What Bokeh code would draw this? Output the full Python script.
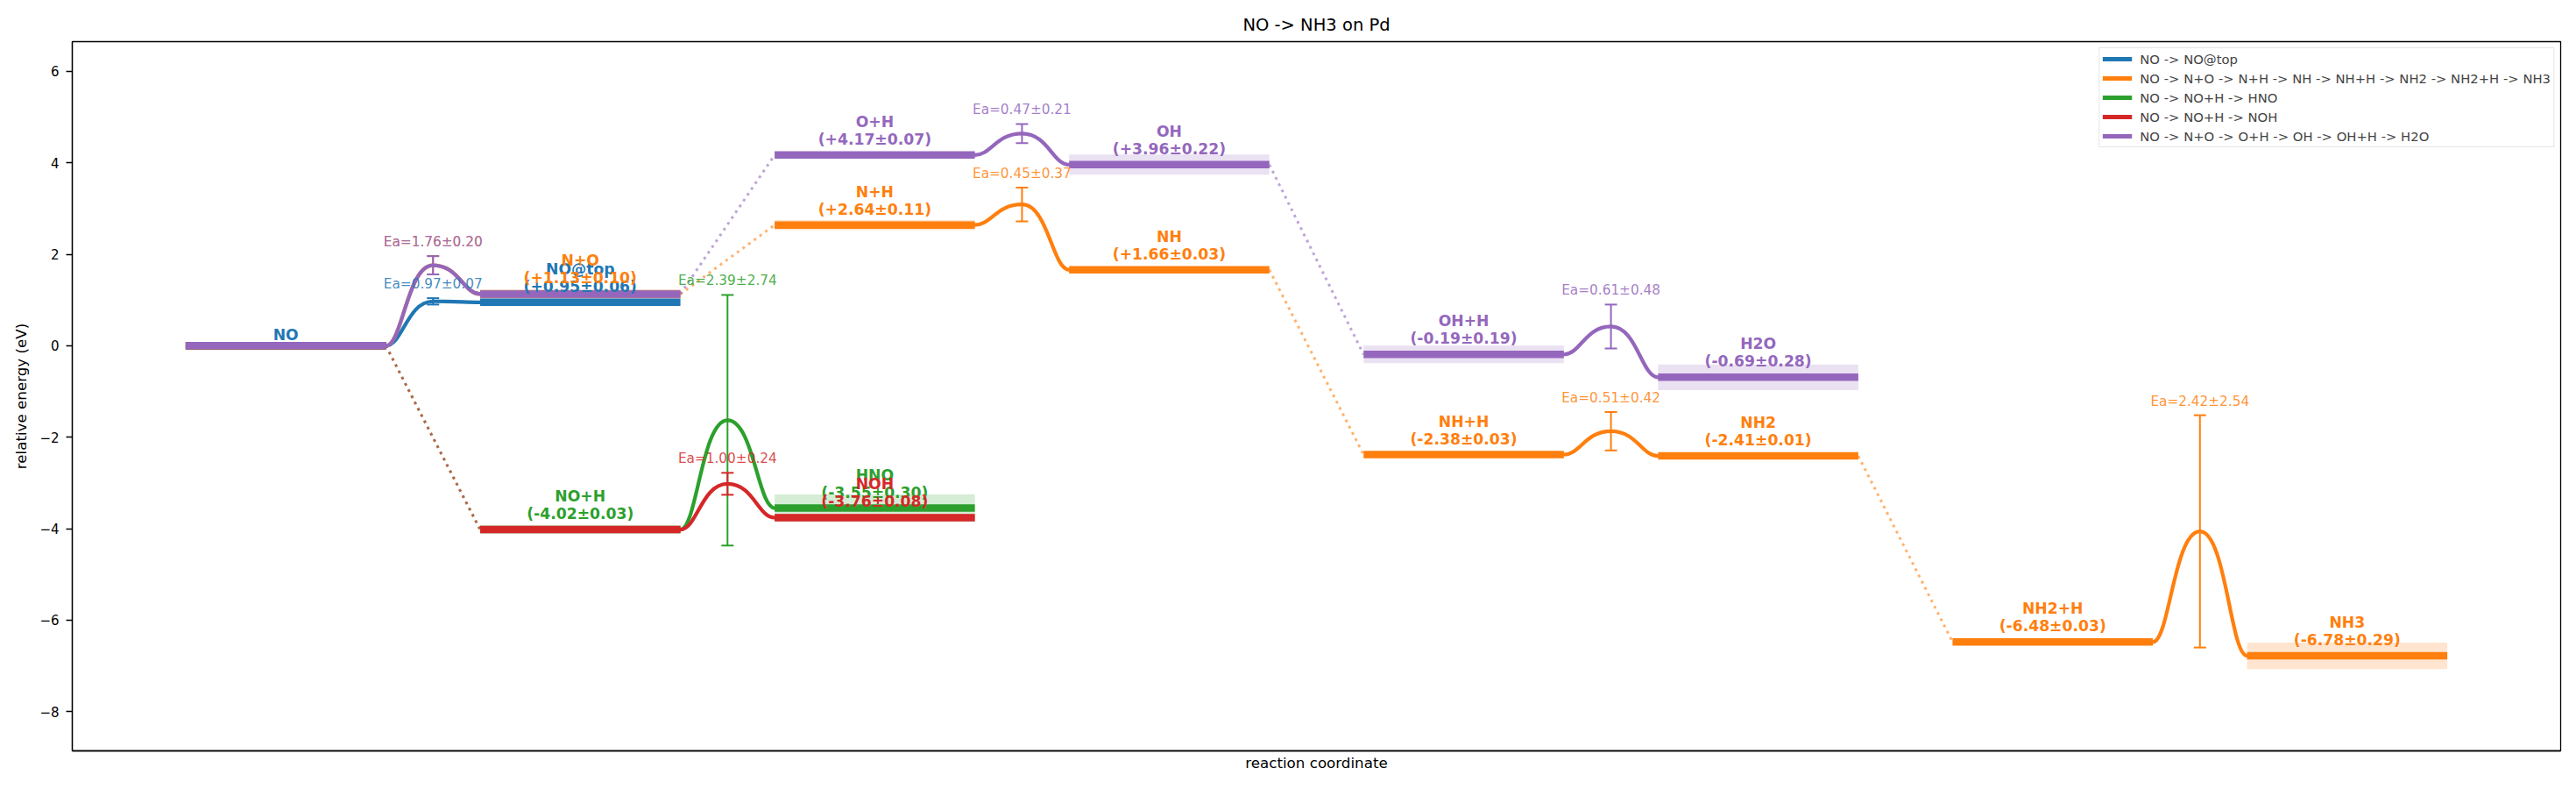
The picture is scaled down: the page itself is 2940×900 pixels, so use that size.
from bokeh.plotting import figure
from bokeh.models import Range1d, FixedTicker, Legend, LegendItem
from bokeh.core.properties import value
from bokeh.embed import file_html
from bokeh.resources import INLINE

# ---------------- data ----------------
title_text = "NO -> NH3 on Pd"
path_labels = [
    "NO -> NO@top",
    "NO -> N+O -> N+H -> NH -> NH+H -> NH2 -> NH2+H -> NH3",
    "NO -> NO+H -> HNO",
    "NO -> NO+H -> NOH",
    "NO -> N+O -> O+H -> OH -> OH+H -> H2O",
]
colors = ["#1f77b4", "#ff7f0e", "#2ca02c", "#d62728", "#9467bd"]

top_states = ["NO", "NO@top"]
top_energy = [0.0, 0.95]
top_err = [0.0, 0.06]
top_ea = [0.97]
top_ea_err = [0.07]

nh3_states = ["NO", "N+O", "N+H", "NH", "NH+H", "NH2", "NH2+H", "NH3"]
nh3_energy = [0.0, 1.13, 2.64, 1.66, -2.38, -2.41, -6.48, -6.78]
nh3_err = [0.0, 0.10, 0.11, 0.03, 0.03, 0.01, 0.03, 0.29]
nh3_ea = [1.76, None, 0.45, None, 0.51, None, 2.42]
nh3_ea_err = [0.20, None, 0.37, None, 0.42, None, 2.54]

hno_states = ["NO", "NO+H", "HNO"]
hno_energy = [0.0, -4.02, -3.55]
hno_err = [0.0, 0.03, 0.30]
hno_ea = [None, 2.39]
hno_ea_err = [None, 2.74]

noh_states = ["NO", "NO+H", "NOH"]
noh_energy = [0.0, -4.02, -3.76]
noh_err = [0.0, 0.03, 0.08]
noh_ea = [None, 1.00]
noh_ea_err = [None, 0.24]

h2o_states = ["NO", "N+O", "O+H", "OH", "OH+H", "H2O"]
h2o_energy = [0.0, 1.13, 4.17, 3.96, -0.19, -0.69]
h2o_err = [0.0, 0.10, 0.07, 0.22, 0.19, 0.28]
h2o_ea = [1.76, None, 0.47, None, 0.61]
h2o_ea_err = [0.20, None, 0.21, None, 0.48]

y_ticks = [-8, -6, -4, -2, 0, 2, 4, 6]

paths = [
    (top_states, top_energy, top_err, top_ea, top_ea_err),
    (nh3_states, nh3_energy, nh3_err, nh3_ea, nh3_ea_err),
    (hno_states, hno_energy, hno_err, hno_ea, hno_ea_err),
    (noh_states, noh_energy, noh_err, noh_ea, noh_ea_err),
    (h2o_states, h2o_energy, h2o_err, h2o_ea, h2o_ea_err),
]

# ---------------- styles ----------------
FONT = "DejaVu Sans"
W = 0.68            # level width in reaction-coordinate units
LEVEL_LW = 8.5
CURVE_LW = 4.2
LABEL_SIZE = "17.2px"

p = figure(
    width=2940, height=900,
    x_range=Range1d(-0.385, 8.065), y_range=Range1d(-8.86, 6.65),
    output_backend="svg", toolbar_location=None,
    min_border_left=82, min_border_right=18, min_border_top=47, min_border_bottom=44,
    title=title_text,
)
p.background_fill_color = "white"
p.border_fill_color = "white"
p.xgrid.visible = False
p.ygrid.visible = False
p.outline_line_color = "black"
p.outline_line_width = 1.3
p.outline_line_alpha = 1.0

p.title.align = "center"
p.title.text_font = FONT
p.title.text_font_size = "19.5px"
p.title.text_font_style = "normal"
p.title.text_color = "black"
p.title.standoff = 15

p.yaxis.ticker = FixedTicker(ticks=y_ticks)
p.yaxis.major_label_overrides = {t: str(t).replace("-", "\u2212") for t in y_ticks}
p.yaxis.axis_label = "relative energy (eV)"
p.yaxis.major_tick_out = 7
p.yaxis.major_tick_in = 0
p.yaxis.minor_tick_line_color = None
p.yaxis.major_label_standoff = 8
p.yaxis.axis_label_standoff = 8
p.xaxis.ticker = FixedTicker(ticks=[])
p.xaxis.major_tick_out = 0
p.xaxis.minor_tick_out = 0
p.xaxis.minor_tick_line_color = None
p.xaxis.axis_label = "reaction coordinate"
p.xaxis.axis_label_standoff = 3
for ax in (p.xaxis, p.yaxis):
    ax.axis_line_color = "black"
    ax.axis_line_width = 1.3
    ax.major_tick_line_color = "black"
    ax.major_tick_line_width = 1.3
    ax.major_label_text_font = FONT
    ax.major_label_text_font_size = "15px"
    ax.major_label_text_color = "black"
    ax.axis_label_text_font = FONT
    ax.axis_label_text_font_size = "16.7px"
    ax.axis_label_text_font_style = "normal"
    ax.axis_label_text_color = "black"

# ---------------- uncertainty bands (under everything) ----------------
for (states, en, er, ea, eae), c in zip(paths, colors):
    xs = list(range(len(states)))
    p.quad(left=xs, right=[x + W for x in xs],
           bottom=[e - s for e, s in zip(en, er)], top=[e + s for e, s in zip(en, er)],
           fill_color=c, fill_alpha=0.2, line_color=None)

# ---------------- levels, transitions, error bars ----------------
half = (1 - W) / 2
for (states, en, er, ea, eae), c in zip(paths, colors):
    xs = list(range(len(states)))
    p.segment(x0=xs, y0=en, x1=[x + W for x in xs], y1=en,
              line_color=c, line_width=LEVEL_LW)
    for k in range(len(states) - 1):
        xa = k + W
        xb = k + 1
        if ea[k] is None:
            p.segment(x0=[xa], y0=[en[k]], x1=[xb], y1=[en[k + 1]],
                      line_color=c, line_width=3, line_dash="3 5", line_alpha=0.6)
        else:
            tx = xa + half
            ty = en[k] + ea[k]
            p.bezier(x0=[xa, tx], y0=[en[k], ty], x1=[tx, xb], y1=[ty, en[k + 1]],
                     cx0=[xa + 0.35 * half, tx + 0.55 * half], cy0=[en[k], ty],
                     cx1=[xa + 0.45 * half, tx + 0.65 * half], cy1=[ty, en[k + 1]],
                     line_color=c, line_width=CURVE_LW, line_cap="round")
            p.segment(x0=[tx], y0=[ty - eae[k]], x1=[tx], y1=[ty + eae[k]],
                      line_color=c, line_width=2)
            p.scatter(x=[tx, tx], y=[ty - eae[k], ty + eae[k]], marker="dash",
                      size=14, line_color=c, line_width=2)

# ---------------- texts ----------------
seen = set()
for (states, en, er, ea, eae), c in zip(paths, colors):
    for k in range(len(states) - 1):
        if ea[k] is not None:
            tx = k + W + half
            ty = en[k] + ea[k] + eae[k]
            p.text(x=[tx], y=[ty], text=[f"Ea={ea[k]:.2f}\u00b1{eae[k]:.2f}"],
                   text_font=value(FONT), text_font_size="15.3px", text_color=c,
                   text_alpha=0.85, text_align="center", text_baseline="alphabetic",
                   y_offset=-16)
    for k, name in enumerate(states):
        if name in seen:
            continue
        seen.add(name)
        xc = k + W / 2
        if k == 0:
            p.text(x=[xc], y=[en[k]], text=[name], text_font=value(FONT),
                   text_font_size=LABEL_SIZE, text_font_style="bold", text_color=c,
                   text_align="center", text_baseline="alphabetic", y_offset=-12)
        else:
            p.text(x=[xc], y=[en[k]], text=[name], text_font=value(FONT),
                   text_font_size=LABEL_SIZE, text_font_style="bold", text_color=c,
                   text_align="center", text_baseline="alphabetic", y_offset=-38)
            p.text(x=[xc], y=[en[k]], text=[f"({en[k]:+.2f}\u00b1{er[k]:.2f})"],
                   text_font=value(FONT), text_font_size=LABEL_SIZE, text_font_style="bold",
                   text_color=c, text_align="center", text_baseline="alphabetic",
                   y_offset=-18)

# ---------------- legend ----------------
items = []
for lab, c in zip(path_labels, colors):
    r = p.line(x=[float("nan")], y=[float("nan")], line_color=c, line_width=5)
    items.append(LegendItem(label=lab, renderers=[r]))
legend = Legend(items=items, location="top_right",
                label_text_font=FONT, label_text_font_size="14.8px",
                glyph_width=34, glyph_height=18, label_height=18,
                spacing=4, padding=3, margin=7, label_standoff=9,
                border_line_color="#cccccc", border_line_width=1.5,
                background_fill_color="white", background_fill_alpha=0.8)
p.add_layout(legend)

open("out.html", "w").write(file_html(p, INLINE))
